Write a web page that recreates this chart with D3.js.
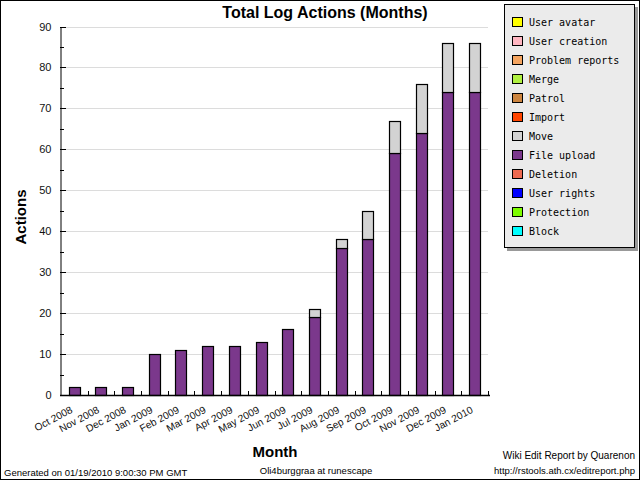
<!DOCTYPE html>
<html>
<head>
<meta charset="utf-8">
<script src="https://cdn.jsdelivr.net/npm/d3@7"></script>
<style>
  body { margin: 0; background: #fff; }
  svg { display: block; }
</style>
</head>
<body>
<svg id="chart" width="640" height="480"></svg>
<script>
// data
var months = ["Oct 2008", "Nov 2008", "Dec 2008", "Jan 2009", "Feb 2009", "Mar 2009",
  "Apr 2009", "May 2009", "Jun 2009", "Jul 2009", "Aug 2009", "Sep 2009",
  "Oct 2009", "Nov 2009", "Dec 2009", "Jan 2010"];
var fileUpload = [2, 2, 2, 10, 11, 12, 12, 13, 16, 19, 36, 38, 59, 64, 74, 74];
var move       = [0, 0, 0, 0, 0, 0, 0, 0, 0, 2, 2, 7, 8, 12, 12, 12];
var legendNames = ["User avatar", "User creation", "Problem reports", "Merge", "Patrol",
  "Import", "Move", "File upload", "Deletion", "User rights", "Protection", "Block"];
var legendColors = ["#ffff00", "#ffb6c1", "#f4a460", "#b0f040", "#cd853f",
  "#ff4500", "#d3d3d3", "#7b388c", "#ee6a50", "#0000ff", "#7cfc00", "#00ffff"];
var yTicks = [0, 10, 20, 30, 40, 50, 60, 70, 80, 90];

var svg = d3.select("#chart");
var W = 640, H = 480;
var pLeft = 61, pRight = 488, pTop = 26.5, pBottom = 395;

var colorOf = d3.scaleOrdinal().domain(legendNames).range(legendColors);

var x = d3.scaleBand().domain(months).range([pLeft, pRight]).paddingInner(0.58).paddingOuter(0.29);
var xb = d3.scaleBand().domain(months).range([pLeft, pRight]);
var y = d3.scaleLinear().domain([0, 90]).range([pBottom, pTop]);

// outer frame
svg.append("rect").attr("x", 0.5).attr("y", 0.5).attr("width", W - 1).attr("height", H - 1)
  .attr("fill", "#fff").attr("stroke", "#000");

// grid
svg.append("g").selectAll("line").data(yTicks.slice(1)).enter().append("line")
  .attr("x1", pLeft).attr("x2", pRight)
  .attr("y1", function(d) { return Math.round(y(d)) + 0.5; })
  .attr("y2", function(d) { return Math.round(y(d)) + 0.5; })
  .attr("stroke", "#dcdcdc");

// stacked bars
var rows = months.map(function(m, i) { return { month: m, "File upload": fileUpload[i], "Move": move[i] }; });
var stack = d3.stack().keys(["File upload", "Move"])(rows);
svg.append("g").selectAll("g").data(stack).enter().append("g")
  .attr("fill", function(s) { return colorOf(s.key); })
  .selectAll("rect").data(function(s) { return s.filter(function(d) { return d[1] > d[0]; }); })
  .enter().append("rect")
  .attr("x", function(d) { return Math.round(x(d.data.month)) + 0.5; })
  .attr("y", function(d) { return Math.round(y(d[1])) + 0.5; })
  .attr("width", Math.round(x.bandwidth()))
  .attr("height", function(d) { return Math.round(y(d[0])) - Math.round(y(d[1])); })
  .attr("stroke", "#000").attr("stroke-width", 1.2);

// y axis
var yAxis = d3.axisLeft(y).tickValues(yTicks).tickSize(0).tickPadding(9);
var gy = svg.append("g").attr("transform", "translate(" + (pLeft - 0.5) + ",0)").call(yAxis);
gy.select(".domain").attr("stroke", "#000");
gy.selectAll("text").attr("font-family", "Liberation Sans, Arial, sans-serif")
  .attr("font-size", 11).attr("fill", "#111");
var minor = d3.range(0, 91, 5);
svg.append("g").selectAll("line").data(minor).enter().append("line")
  .attr("x1", pLeft - 1).attr("x2", function(d) { return d % 10 === 0 ? pLeft + 5 : pLeft + 3; })
  .attr("y1", function(d) { return Math.round(y(d)) + 0.5; })
  .attr("y2", function(d) { return Math.round(y(d)) + 0.5; })
  .attr("stroke", "#000");

// x axis
svg.append("line").attr("x1", pLeft - 1).attr("x2", pRight + 2)
  .attr("y1", pBottom + 0.5).attr("y2", pBottom + 0.5).attr("stroke", "#000").attr("stroke-width", 1.3);
svg.append("g").selectAll("line").data(months).enter().append("line")
  .attr("x1", function(d) { return Math.round(xb(d) + xb.bandwidth()) + 0.5; })
  .attr("x2", function(d) { return Math.round(xb(d) + xb.bandwidth()) + 0.5; })
  .attr("y1", pBottom - 4).attr("y2", pBottom)
  .attr("stroke", "#000");
svg.append("g").selectAll("text").data(months).enter().append("text")
  .attr("transform", function(d) {
    return "translate(" + (x(d) + x.bandwidth() / 2 - 1) + "," + (pBottom + 17) + ") rotate(-28)";
  })
  .attr("text-anchor", "end")
  .attr("font-family", "Liberation Sans, Arial, sans-serif").attr("font-size", 10.2)
  .attr("fill", "#111")
  .text(function(d) { return d; });

// titles
svg.append("text").attr("x", 325).attr("y", 18).attr("text-anchor", "middle")
  .attr("font-family", "Liberation Sans, Arial, sans-serif").attr("font-weight", "bold")
  .attr("font-size", 16).text("Total Log Actions (Months)");
svg.append("text").attr("transform", "translate(26,217) rotate(-90)").attr("text-anchor", "middle")
  .attr("font-family", "Liberation Sans, Arial, sans-serif").attr("font-weight", "bold")
  .attr("font-size", 15).text("Actions");
svg.append("text").attr("x", 275).attr("y", 457).attr("text-anchor", "middle")
  .attr("font-family", "Liberation Sans, Arial, sans-serif").attr("font-weight", "bold")
  .attr("font-size", 15).text("Month");

// legend
var lg = svg.append("g");
lg.append("rect").attr("x", 507).attr("y", 7).attr("width", 131).attr("height", 244).attr("fill", "#999");
lg.append("rect").attr("x", 504.5).attr("y", 4.5).attr("width", 130).attr("height", 243)
  .attr("fill", "#ebebeb").attr("stroke", "#000");
var item = lg.selectAll("g.item").data(legendNames).enter().append("g")
  .attr("transform", function(d, i) { return "translate(0," + (i * 19) + ")"; });
item.append("rect").attr("x", 512.5).attr("y", 17.5).attr("width", 10).attr("height", 9)
  .attr("fill", function(d) { return colorOf(d); }).attr("stroke", "#000");
item.append("text").attr("x", 529).attr("y", 25.5)
  .attr("font-family", "DejaVu Sans Mono, monospace").attr("font-size", 10)
  .text(function(d) { return d; });

// footer
var foot = "Liberation Sans, Arial, sans-serif";
svg.append("text").attr("x", 4).attr("y", 476).attr("font-family", foot).attr("font-size", 9.5)
  .text("Generated on 01/19/2010 9:00:30 PM GMT");
svg.append("text").attr("x", 316).attr("y", 474).attr("text-anchor", "middle").attr("font-family", foot)
  .attr("font-size", 9.5).text("Oli4burggraa at runescape");
svg.append("text").attr("x", 635).attr("y", 459).attr("text-anchor", "end").attr("font-family", foot)
  .attr("font-size", 10).text("Wiki Edit Report by Quarenon");
svg.append("text").attr("x", 635).attr("y", 474).attr("text-anchor", "end").attr("font-family", foot)
  .attr("font-size", 9.5).text("http://rstools.ath.cx/editreport.php");
</script>
</body>
</html>
